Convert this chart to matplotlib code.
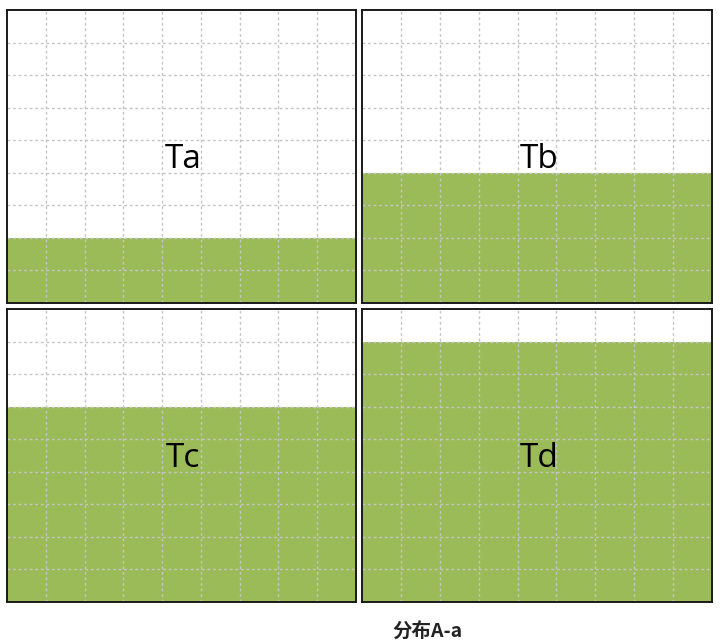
import matplotlib.pyplot as plt

plt.rcParams['font.family'] = ['Open Sans', 'Noto Sans CJK SC', 'DejaVu Sans']

labels = ["Ta", "Tb", "Tc", "Td"]
levels = [2, 4, 6, 8]
n_cells = 9
caption = "分布A-a"

W, H = 722, 643
fig = plt.figure(figsize=(W / 100, H / 100), dpi=100)

# panel boxes in pixels: left, top, right, bottom
boxes = [(7, 10, 356, 303), (362, 10, 712, 303),
         (7, 309, 356, 602), (362, 309, 712, 602)]

for (l, t, r, b), lab, lev in zip(boxes, labels, levels):
    ax = fig.add_axes([l / W, 1 - b / H, (r - l) / W, (b - t) / H])
    ax.bar(0, lev, width=n_cells, align='edge', color='#9BBB59', zorder=1)
    ax.set_xlim(0, n_cells)
    ax.set_ylim(0, n_cells)
    ax.set_xticks(range(1, n_cells))
    ax.set_yticks(range(1, n_cells))
    ax.grid(True, color='#c4c4c4', linestyle=(0, (2, 2)), linewidth=1)
    ax.set_axisbelow('line')
    ax.tick_params(length=0, labelbottom=False, labelleft=False)
    for s in ax.spines.values():
        s.set_linewidth(1.4)
        s.set_color('#1a1a1a')
    # baseline sits ~158 px below the panel top
    ax.text(0.505, 1 - 158 / (b - t), lab, transform=ax.transAxes,
            ha='center', va='baseline', fontsize=24, color='black', zorder=5)

fig.text(427 / W, 1 - 632 / H, caption, ha='center', va='center',
         fontsize=14, fontweight='bold', color='#222222',
         family=['Noto Sans CJK SC', 'DejaVu Sans'])

fig.savefig('out.png', dpi=100)
